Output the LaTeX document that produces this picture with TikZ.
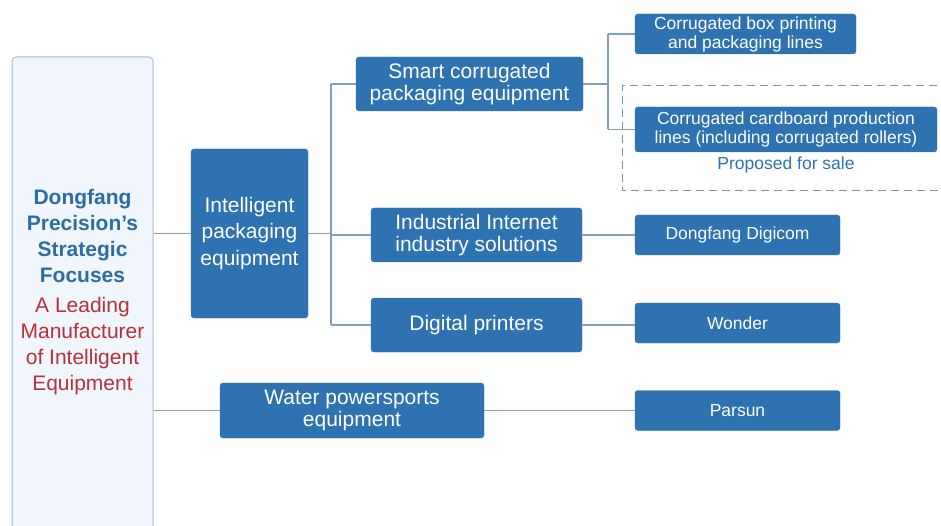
\documentclass[tikz,border=0pt]{standalone}
\usepackage{fontspec}
\setmainfont{Liberation Sans}
\definecolor{boxblue}{RGB}{46,114,178}
\definecolor{linecol}{RGB}{128,160,192}
\definecolor{rootfill}{RGB}{240,246,251}
\definecolor{rootedge}{RGB}{165,192,216}
\definecolor{titleblue}{RGB}{46,108,162}
\definecolor{titlered}{RGB}{184,48,56}
\definecolor{dashcol}{RGB}{120,150,182}
\begin{document}
\begin{tikzpicture}[x=1pt,y=-1pt,
  box/.style={draw=boxblue, fill=boxblue, rounded corners=3pt, text=white,
    align=center, inner sep=0pt, font=\fontsize{21}{22}\selectfont},
  sbox/.style={box, font=\fontsize{17.5}{19}\selectfont},
  link/.style={draw=linecol, line width=1.1pt}]
\useasboundingbox (0,0) rectangle (941,526);

% root column (runs off the bottom edge)
\node[draw=rootedge, fill=rootfill, rounded corners=4pt, line width=1pt,
      minimum width=141pt, minimum height=490pt, inner sep=0pt] (root)
  at (82.5,302) {};
\node[align=center, inner sep=0pt, font=\fontsize{21}{26}\selectfont]
  (roottext) at (82.5,292)
  {\textcolor{titleblue}{\bfseries Dongfang}\\
   \textcolor{titleblue}{\bfseries Precision’s}\\
   \textcolor{titleblue}{\bfseries Strategic}\\
   \textcolor{titleblue}{\bfseries Focuses}\\[4pt]
   \textcolor{titlered}{A Leading}\\
   \textcolor{titlered}{Manufacturer}\\
   \textcolor{titlered}{of Intelligent}\\
   \textcolor{titlered}{Equipment}};

% business segments
\node[box, font=\fontsize{21}{26.5}\selectfont, minimum width=117pt, minimum height=169pt]
  (ipe) at (249.5,233.5) {Intelligent\\packaging\\equipment};
\node[box, minimum width=264pt, minimum height=55pt] (water) at (352,410.5)
  {Water powersports\\equipment};

% packaging sub-segments
\node[box, minimum width=227pt, minimum height=54pt] (smart) at (469.5,84)
  {Smart corrugated\\packaging equipment};
\node[box, minimum width=211pt, minimum height=54pt] (indus) at (476.5,235)
  {Industrial Internet\\industry solutions};
\node[box, minimum width=211pt, minimum height=54pt] (digit) at (476.5,325)
  {Digital printers};

% product lines and companies
\node[sbox, minimum width=221pt, minimum height=40pt] (cbox) at (745.5,34)
  {Corrugated box printing\\and packaging lines};
\node[sbox, minimum width=302pt, minimum height=45pt] (ccard) at (786,129.5)
  {Corrugated cardboard production\\lines (including corrugated rollers)};
\node[text=boxblue, font=\fontsize{17.5}{19}\selectfont] (sale) at (786,165)
  {Proposed for sale};
\node[sbox, minimum width=205pt, minimum height=40pt] (digicom) at (737.5,235)
  {Dongfang Digicom};
\node[sbox, minimum width=205pt, minimum height=40pt] (wonder) at (737.5,323)
  {Wonder};
\node[sbox, minimum width=205pt, minimum height=40pt] (parsun) at (737.5,410.5)
  {Parsun};

% asset-sale frame
\draw[dashcol, line width=1pt, dash pattern=on 8pt off 5pt]
  (950,86) -- (622,86) -- (622,191) -- (950,191);

% connectors
\coordinate (t1) at (331,233.5);
\coordinate (t2) at (608,84);
\draw[link] (ipe.west -| root.east) -- (ipe.west);
\draw[link] (water.west -| root.east) -- (water.west);
\draw[link] (ipe.east) -- (t1);
\draw[link] (t1 |- smart.west) -- (t1 |- digit.west);
\draw[link] (t1 |- smart.west) -- (smart.west);
\draw[link] (t1 |- indus.west) -- (indus.west);
\draw[link] (t1 |- digit.west) -- (digit.west);
\draw[link] (smart.east) -- (t2);
\draw[link] (t2 |- cbox.west) -- (t2 |- ccard.west);
\draw[link] (t2 |- cbox.west) -- (cbox.west);
\draw[link] (t2 |- ccard.west) -- (ccard.west);
\draw[link] (indus.east) -- (indus.east -| digicom.west);
\draw[link] (digit.east) -- (digit.east -| wonder.west);
\draw[link] (water.east) -- (water.east -| parsun.west);
\end{tikzpicture}
\end{document}
